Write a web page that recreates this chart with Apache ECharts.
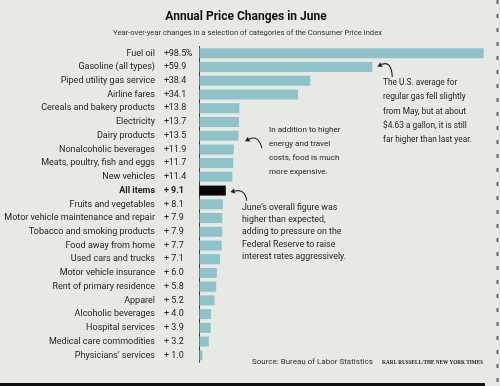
<!DOCTYPE html>
<html><head><meta charset="utf-8">
<script src="https://cdn.jsdelivr.net/npm/echarts@6/dist/echarts.min.js"></script>
<style>html,body{margin:0;padding:0;background:#e6eae3}#c{width:500px;height:386px}</style>
</head><body><div id="c"></div>
<script>
const categories = ['Fuel oil','Gasoline (all types)','Piped utility gas service','Airline fares','Cereals and bakery products','Electricity','Dairy products','Nonalcoholic beverages','Meats, poultry, fish and eggs','New vehicles','All items','Fruits and vegetables','Motor vehicle maintenance and repair','Tobacco and smoking products','Food away from home','Used cars and trucks','Motor vehicle insurance','Rent of primary residence','Apparel','Alcoholic beverages','Hospital services','Medical care commodities',"Physicians' services"];
const values = [98.5,59.9,38.4,34.1,13.8,13.7,13.5,11.9,11.7,11.4,9.1,8.1,7.9,7.9,7.7,7.1,6.0,5.8,5.2,4.0,3.9,3.2,1.0];
const highlight = 'All items';
const FONT = 'Roboto';
const TXT = '#232323';

const chart = echarts.init(document.getElementById('c'), null, {renderer:'canvas'});
const baseRich = (bold) => ({
  fontFamily: FONT, fontSize: 9, color: TXT, fontWeight: bold ? 'bold' : 'normal'
});
const rich = {};
[['',false],['b',true]].forEach(([s,b]) => {
  rich['n'+s] = Object.assign(baseRich(b), {});
  rich['g'+s] = Object.assign(baseRich(b), {width: 9});
  rich['p'+s] = Object.assign(baseRich(b), {width: 5, align: 'left'});
  rich['v'+s] = Object.assign(baseRich(b), {width: 17, align: 'right'});
  rich['c'+s] = Object.assign(baseRich(b), {width: 6, align: 'left'});
});

chart.setOption({
  backgroundColor: '#e6eae3',
  animation: false,
  grid: {left: 199.5, right: 12, top: 46.4, bottom: 23.8},
  xAxis: {type: 'value', min: 0, max: 100, show: false},
  yAxis: {
    type: 'category', data: categories, inverse: true,
    axisLine: {lineStyle: {color: '#3a3a3a', width: 1}},
    axisTick: {show: false},
    axisLabel: {
      interval: 0,
      margin: 7.5,
      formatter: (name, idx) => {
        const s = name === highlight ? 'b' : '';
        const v = values[idx].toFixed(1);
        const pct = idx === 0 ? '%' : ' ';
        return `{n${s}|${name}}{g${s}| }{p${s}|+}{v${s}|${v}}{c${s}|${pct}}`;
      },
      rich: rich
    }
  },
  series: [{
    type: 'bar', barWidth: 10,
    data: values.map((v, i) => ({value: v, itemStyle: {color: categories[i] === highlight ? '#050505' : '#8fc2ca'}}))
  }]
});

function px(i) { return chart.convertToPixel({seriesIndex: 0}, [values[i], i]); }
function arrow(head, cp, end) {
  const ang = Math.atan2(cp[1]-head[1], cp[0]-head[0]);
  const L = 4.5, W = 2.6;
  const bx = head[0] + L*Math.cos(ang), by = head[1] + L*Math.sin(ang);
  const nx = -Math.sin(ang), ny = Math.cos(ang);
  return [
    {type:'bezierCurve', shape:{x1:bx, y1:by, x2:end[0], y2:end[1], cpx1:cp[0], cpy1:cp[1]}, style:{stroke:'#222', lineWidth:1.1, fill:null}},
    {type:'polygon', shape:{points:[head,[bx+nx*W, by+ny*W],[bx-nx*W, by-ny*W]]}, style:{fill:'#222'}}
  ];
}
const g1 = px(1), g2 = px(6), g3 = px(10);
const textStyle = (x, y, txt, lh, fs) => ({type:'text', x, y, style:{text: txt, fontFamily: FONT, fontSize: fs, fill: TXT, lineHeight: lh}});
chart.setOption({
  graphic: [
    {type:'text', x: 246, y: 17, style:{text:'Annual Price Changes in June', fontFamily: FONT, fontWeight:'bold', fontSize: 12, fill:'#111', align:'center', verticalAlign:'middle'}},
    {type:'text', x: 247.5, y: 33, style:{text:'Year-over-year changes in a selection of categories of the Consumer Price Index', fontFamily: FONT, fontSize: 7.6, fill:'#333', align:'center', verticalAlign:'middle'}},
    ...arrow([g1[0]+5, g1[1]-0.5], [g1[0]+19, g1[1]-7], [g1[0]+20, g1[1]+10]),
    ...arrow([g2[0]+6.5, g2[1]+5.5], [g2[0]+20, g2[1]-1], [g2[0]+23.5, g2[1]+12.5]),
    ...arrow([g3[0]+4.5, g3[1]+1.5], [g3[0]+19, g3[1]-2], [g3[0]+21, g3[1]+10]),
    textStyle(383, 75.9, 'The U.S. average for\nregular gas fell slightly\nfrom May, but at about\n$4.63 a gallon, it is still\nfar higher than last year.', 14.3, 8.3),
    textStyle(269, 123, 'In addition to higher\nenergy and travel\ncosts, food is much\nmore expensive.', 14, 8.1),
    textStyle(242, 201.3, "June's overall figure was\nhigher than expected,\nadding to pressure on the\nFederal Reserve to raise\ninterest rates aggressively.", 12.3, 8.8),
    {type:'text', x: 252, y: 362, style:{text:'Source: Bureau of Labor Statistics', fontFamily: FONT, fontSize: 8, fill:'#333', verticalAlign:'middle'}},
    {type:'text', x: 382, y: 362, scaleX: 0.84, style:{text:'KARL RUSSELL/THE NEW YORK TIMES', fontFamily: 'Liberation Serif', fontWeight:'bold', fontSize: 6.2, fill:'#222', verticalAlign:'middle'}},
    {type:'rect', shape:{x:0, y:383, width:485, height:3}, style:{fill:'#111'}},
    {type:'line', shape:{x1:497.5, y1:0, x2:497.5, y2:386}, style:{stroke:'#666', lineWidth:2, lineDash:[4,10]}}
  ]
});
</script></body></html>
